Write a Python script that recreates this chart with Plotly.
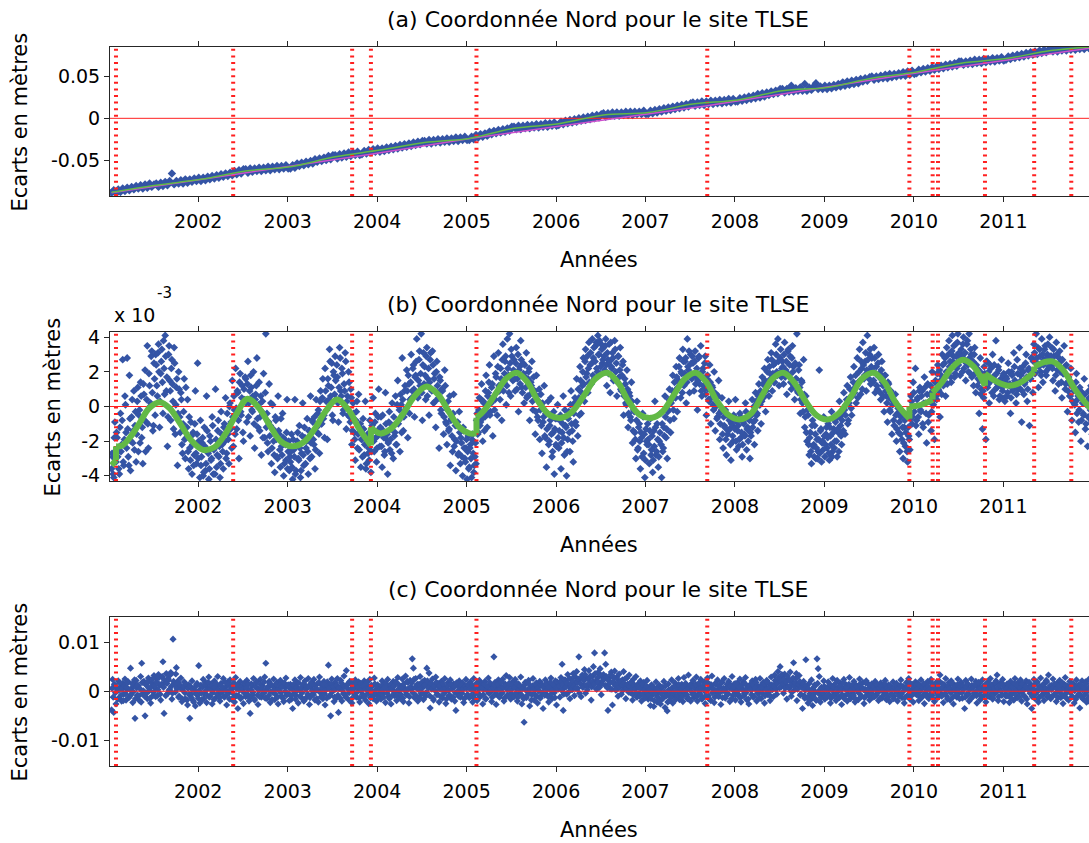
import plotly.graph_objects as go

W, H = 1089, 843
ML = 110
FONT = "DejaVu Sans"
BLUE = "#3454a5"
GREEN = "#62b946"
MAGENTA = "#cc4fcc"
RED = "#ff2020"
AXC = "#262626"

YEARS = [2002, 2003, 2004, 2005, 2006, 2007, 2008, 2009, 2010, 2011]
YEAR_LABELS = ["2002", "2003", "2004", "2005", "2006", "2007", "2008", "2009", "2010", "2011"]
X_RANGE = [2001.013, 2011.958]

# discontinuities (red dotted verticals), decimal years
BREAKS = [2001.08, 2002.39, 2003.72, 2003.93, 2005.11, 2007.69,
          2009.95, 2010.21, 2010.27, 2010.795, 2011.345, 2011.76]

TITLES = ["(a) Coordonnée Nord pour le site TLSE",
          "(b) Coordonnée Nord pour le site TLSE",
          "(c) Coordonnée Nord pour le site TLSE"]
XLABEL = "Années"
YLABEL = "Ecarts en mètres"

# ---------------- panel (a): raw North coordinate, in mm ----------------
A_START = 2001.03
A_STEP = 0.025
A_MM = [
    -89, -86, -90, -85, -88, -84, -87, -83, -86, -82, -85, -81, -84, -80, -84, -79, -83, -78, -82, -79,
    -78, -82, -77, -81, -76, -80, -75, -66, -79, -75, -78, -74, -78, -73, -77, -73, -76, -72, -75, -71,
    -75, -71, -74, -70, -73, -69, -72, -68, -71, -67, -70, -66, -69, -65, -68, -63, -67, -62, -66, -61,
    -61, -65, -60, -64, -60, -63, -59, -63, -59, -62, -58, -62, -58, -61, -57, -61, -57, -60, -56, -60,
    -60, -56, -59, -54, -57, -53, -56, -52, -55, -51, -54, -49, -52, -48, -51, -47, -50, -45, -49, -44,
    -44, -48, -43, -47, -42, -46, -41, -45, -41, -44, -40, -44, -43, -39, -42, -38, -41, -37, -40, -36,
    -40, -36, -39, -35, -38, -34, -37, -33, -36, -32, -35, -31, -34, -30, -33, -29, -32, -28, -31, -27,
    -27, -30, -26, -30, -26, -29, -25, -29, -25, -28, -24, -28, -24, -27, -23, -27, -23, -26, -22, -26,
    -26, -22, -25, -20, -23, -19, -22, -18, -21, -16, -19, -15, -18, -14, -17, -13, -16, -12, -15, -10,
    -10, -13, -9, -13, -9, -12, -8, -12, -8, -11, -7, -11, -7, -10, -6, -10, -6, -9, -5, -9,
    -8, -4, -7, -3, -6, -2, -5, -1, -4, 0, -3, 1, -2, 2, -1, 3, 0, 4, 1, 5,
    6, 2, 6, 3, 7, 3, 7, 3, 7, 4, 8, 4, 8, 4, 8, 5, 8, 5, 9, 5,
    5, 9, 6, 10, 7, 11, 8, 12, 9, 13, 10, 14, 11, 15, 12, 16, 13, 17, 14, 18,
    19, 15, 19, 16, 20, 16, 20, 17, 21, 17, 21, 18, 22, 18, 22, 19, 23, 19, 23, 20,
    20, 24, 21, 25, 22, 26, 23, 27, 24, 29, 25, 30, 26, 31, 28, 32, 29, 33, 30, 35,
    35, 31, 35, 32, 39, 32, 36, 33, 37, 33, 41, 33, 37, 34, 38, 42, 35, 38, 35, 39,
    35, 39, 36, 40, 37, 41, 38, 43, 39, 44, 40, 45, 41, 46, 42, 47, 44, 48, 45, 49,
    50, 46, 50, 47, 51, 48, 52, 48, 53, 49, 53, 50, 54, 51, 55, 51, 56, 52, 57, 53,
    54, 58, 55, 59, 56, 60, 57, 61, 58, 62, 59, 63, 60, 64, 61, 65, 62, 66, 63, 68,
    68, 64, 68, 65, 69, 65, 70, 66, 70, 66, 71, 67, 71, 68, 72, 68, 72, 69, 73, 69,
    70, 74, 71, 75, 72, 76, 73, 77, 74, 78, 75, 79, 76, 80, 77, 81, 78, 82, 79, 82,
    83, 80, 83, 80, 84, 81, 84, 81, 85, 82, 85, 82, 85, 83, 85, 83, 86, 84, 86, 84,
]
A_MODEL_T = [2001.03, 2001.53, 2002.03, 2002.53, 2003.03, 2003.53, 2004.03, 2004.53, 2005.03,
             2005.53, 2006.03, 2006.53, 2007.03, 2007.53, 2008.03, 2008.53, 2009.03, 2009.53,
             2010.03, 2010.53, 2011.03, 2011.53, 2012.03]
A_MODEL_MM = [-88.5, -80, -73, -63, -58, -46, -38, -29, -24, -12, -6.5, 4, 7, 17, 22, 33, 37,
              48, 55.5, 66, 71.5, 81, 86]
A_TREND_T = [2001.03, 2003.93, 2005.11, 2007.69, 2009.95, 2012.03]
A_TREND_MM = [-89, -43, -23, 15, 53, 85]
A_YRANGE = [-0.0929, 0.0853]
A_YTICKS = [-0.05, 0, 0.05]
A_YLABELS = ["-0.05", "0", "0.05"]

# ---------------- panel (b): detrended series, in units of 1e-3 m ----------------
B_START = 2001.03
B_STEP = 0.0125
B_VALS = [
    -3.6, -2.9, -4.1, -0.9, -3.2, -1.8, -2.6, -3.9, -0.4, -2.2, 2.7, -3.4, 0.6, -1.5, 2.8, -2.9, 1.8, -3.7, -0.6, -2.1, 0.9, -1.1, -3.2, 0.3, -2.6, -0.2, 1.4, -1.8, -3.3, 0.7, 2.1, -0.9, 3.5, -2.4, 1.2, 0.2, 3.2, -1.4, 2.5, -0.5,
    2.4, 0.6, 3.6, -1.2, 1.9, 3.3, -0.4, 2.2, 4.1, 0.9, -2.3, 3.0, 1.5, -0.8, 2.7, 0.3, 3.4, -1.6, 1.1, -3.4, 2.0, -0.6, 0.8, -2.2, -1.0, 1.6, -3.0, -1.8, 0.4, -3.6, -2.4, -0.9, -3.9, -1.5, -2.8, 0.9, -3.3, 2.5, -2.0, -4.1,
    -3.4, -2.1, -4.0, -1.2, -3.7, 0.6, -2.6, -4.2, -1.7, -3.1, -0.6, -3.9, -2.4, 1.0, -3.5, -1.4, -2.9, -4.1, -0.3, -2.2, -3.6, -1.0, 0.5, -2.7, -1.6, -3.3, 0.2, -0.9, 1.5, -2.3, -0.2, 2.2, -1.3, 0.8, -3.0, 1.9, -0.5, 1.2, -2.0, 0.4,
    1.6, -0.9, 2.6, 0.2, -1.7, 1.1, -0.3, 2.0, -2.4, 0.7, 2.8, -1.2, 1.4, -0.6, -2.8, 0.3, 1.9, -1.8, 4.2, -0.4, -2.6, 1.3, -1.1, -3.3, 0.1, -2.0, -3.8, -0.8, -2.9, 0.6, -1.6, -3.5, -2.3, -0.4, -4.0, -1.9, -3.1, 0.4, -2.6, -3.7,
    -3.2, -1.6, -4.2, -2.5, 0.4, -3.7, -2.0, -3.0, -1.1, -4.1, -2.7, 0.2, -3.4, -1.8, -2.4, -0.7, -3.9, -1.4, 0.6, -2.9, -0.9, -2.2, -3.6, 0.4, -1.5, -0.2, -2.7, 0.9, -1.0, 1.6, -0.5, 2.2, 0.3, -1.9, 1.2, 3.3, 0.6, 2.5, -0.8, 1.8,
    2.9, 0.4, 1.7, -0.9, 3.4, 0.9, 2.2, -0.4, 1.3, 3.1, -1.3, 0.6, 2.0, -0.6, 1.0, -2.2, 0.2, -1.5, -3.1, -0.3, -2.4, 0.7, -1.2, -3.5, -1.9, -0.7, -2.8, 0.3, -3.3, -1.6, -2.4, -0.8, -3.8, -1.1, 0.5, -2.6, -0.4, -3.2, -1.7, 1.0,
    -2.3, -0.6, -3.5, -1.4, -2.8, 0.8, -1.9, -3.9, -0.9, -2.5, -1.3, 0.2, -3.0, -1.7, 0.6, -2.2, 1.5, -0.8, -2.6, 0.1, 2.8, -1.4, 0.9, -0.3, 2.1, -1.8, 1.3, 0.4, 3.0, 0.9, 2.4, -0.6, 1.8, 3.9, 0.5, 2.7, 1.2, 4.2, -0.8, 3.1,
    2.3, 0.4, 3.4, 1.6, -0.5, 2.7, 1.0, 3.2, 0.2, 1.9, -1.2, 2.6, 0.8, -2.4, 1.5, -0.4, 0.9, -1.6, 2.1, -0.9, -2.2, 0.3, -1.3, -3.4, -0.7, -2.6, 0.7, -1.9, -3.7, -1.1, -2.8, -0.3, -3.3, -2.1, -4.0, -1.4, -3.0, -2.4, -4.2, -1.7,
    -3.5, -2.2, -4.1, -1.6, -3.8, -2.9, -3.3, -0.4, -1.5, 0.5, -0.9, 1.3, -2.0, 0.2, -0.6, 1.8, -1.2, 0.8, 2.4, -0.3, 1.1, -1.7, 2.9, 0.4, 1.7, -0.5, 3.1, 0.9, 2.2, -0.8, 3.6, 1.4, 2.6, 0.1, 3.9, 1.8, 4.2, 0.6, 2.9, 1.5,
    2.7, 0.9, 3.4, 1.6, -0.3, 2.3, 3.8, 1.1, 2.5, 0.2, 1.7, 3.1, 0.6, 2.0, -0.8, 1.4, 2.6, -0.2, 0.9, -1.6, 1.8, -0.6, 0.3, -1.9, 0.7, -2.7, -0.9, 1.2, -1.8, -3.5, -0.4, -2.2, -1.1, 0.5, -2.9, -1.5, -3.9, -0.7, -2.3, 0.1,
    -2.4, -0.8, -3.6, -1.5, 0.6, -2.8, -1.1, -4.0, -1.9, -0.3, -2.6, 0.9, -1.4, -3.2, 0.2, -0.9, 1.6, -1.7, 0.5, 2.3, -0.4, 1.2, 2.8, 0.3, 3.3, 1.9, 0.8, 3.7, 2.4, 1.3, 3.9, 2.8, 1.6, 3.5, 2.2, 4.1, 3.0, 1.9, 3.6, 2.5,
    3.4, 2.1, 3.9, 1.2, 2.7, 3.6, 0.8, 2.3, 3.1, 1.5, 3.8, 2.0, 0.6, 2.9, 1.7, 3.4, 0.9, 2.4, -0.5, 1.6, 0.2, 2.1, -1.2, 0.8, -0.6, 1.4, -2.1, -0.2, -1.5, -3.0, 0.3, -2.4, -1.0, -3.6, -1.8, -0.4, -2.7, -4.1, -1.3, -2.2,
    -1.9, -3.3, -0.7, -2.5, -3.8, -1.4, 0.3, -2.8, -1.0, -3.5, -2.0, -0.4, -4.1, -2.6, -1.2, 0.6, -1.8, -3.0, -0.2, 1.0, -1.5, 0.4, 1.8, -0.7, 0.9, 2.3, -0.3, 1.5, 2.8, 0.5, 1.9, 3.3, 1.2, 2.6, 0.2, 3.9, 2.1, 0.8, 3.0, 1.6,
    2.5, 0.9, 3.2, 1.7, -0.2, 2.8, 1.3, 3.5, 0.6, 2.2, 1.0, 2.9, -0.5, 1.8, 0.4, 2.4, -1.0, 1.2, 0.1, 2.0, -1.4, 0.7, -0.6, 1.5, -1.9, -0.3, 0.5, -2.4, -1.1, -0.2, -2.8, -1.6, 0.3, -1.3, -3.1, -0.8, -2.0, -1.2, 0.4, -2.5,
    -1.4, -2.3, -0.4, -1.8, -2.9, -0.9, -1.6, 0.2, -2.5, -1.2, -0.6, -3.0, -1.7, 0.4, -0.9, -2.2, 0.8, -0.5, -1.4, 1.3, 0.1, -1.0, 1.7, 0.5, 2.2, -0.3, 1.1, 2.7, 0.6, 1.9, 3.1, 0.9, 2.4, 1.4, 3.6, 2.0, 3.9, 1.2, 2.8, 1.7,
    2.6, 1.3, 3.7, 2.1, 0.7, 3.2, 1.8, 2.9, 1.0, 3.5, 2.3, 0.4, 1.6, 4.2, 0.8, 2.4, -0.4, 1.5, 0.2, 2.7, -1.2, 0.6, -2.0, -0.5, -2.8, -1.5, -3.3, -0.8, -2.2, -1.1, -3.0, -1.9, -2.6, 2.1, -1.4, -3.2, -2.0, -0.6, -2.9, -1.6,
    -2.4, -1.0, -3.1, -1.7, -0.3, -2.6, -1.3, -2.0, -0.7, -2.9, -1.5, 0.3, -1.1, -2.2, -0.4, 0.8, -1.6, 0.1, 1.2, -0.8, 0.5, 1.7, -0.5, 0.9, 2.3, 1.1, 0.2, 2.8, 1.4, 3.3, 0.7, 2.2, 3.7, 1.6, 2.6, 0.9, 4.1, 2.0, 3.0, 1.3,
    2.8, 1.4, 3.4, 0.8, 2.3, 1.0, 3.0, 1.9, 0.4, 2.6, 1.2, -0.3, 1.8, 0.6, -0.9, 1.3, -0.2, 0.9, -1.6, 0.3, -1.1, 0.7, -2.0, -0.4, -1.5, -2.6, -0.6, -1.9, -3.0, -1.2, -2.3, -0.5, -3.2, -1.7, -2.5, 0.6, -1.0, 1.4, -0.3, 2.2,
    -0.8, 0.5, -1.6, 1.1, -0.3, 0.9, -1.2, 1.7, 0.2, -2.1, 1.3, -0.5, 0.7, -1.4, 2.0, 0.1, -1.9, 1.5, 0.4, 2.4, 0.9, -0.6, 1.8, 3.0, 1.2, 2.5, 0.6, 3.4, 1.9, 3.8, 2.6, 1.4, 4.1, 2.9, 1.7, 3.6, 2.2, 4.2, 3.1, 1.8,
    3.3, 2.0, 4.0, 2.7, 1.5, 3.6, 2.4, 4.2, 1.9, 3.0, 2.5, 1.2, 3.4, 0.8, 2.2, 1.6, -0.4, 2.8, 1.0, -1.3, 0.5, 1.9, -1.9, 2.6, 1.3, 0.2, 2.4, 1.6, 3.0, 0.6, 1.8, 3.8, 1.1, 2.3, 0.4, 1.5, 2.7, 0.9, 1.9, 0.3,
    1.7, 0.6, 2.5, 1.2, -0.4, 2.0, 0.9, 3.1, 1.5, 0.2, 2.7, 1.0, 3.4, 1.8, -0.9, 2.3, 0.7, 1.4, 3.0, 0.3, 2.1, -1.1, 1.6, 2.8, 0.8, 3.6, 1.9, 4.2, 2.5, 1.1, 3.3, 2.0, 3.9, 1.4, 2.7, 3.5, 1.8, 3.0, 2.2, 4.0,
    2.4, 3.4, 1.5, 2.9, 0.9, 3.7, 2.1, 1.3, 3.2, 2.6, 0.5, 1.9, 3.5, 1.0, 2.4, -0.3, 1.7, 0.6, 2.2, -0.8, 1.3, 0.2, -1.5, 1.9, 0.4, -0.9, 1.1, -2.0, 0.8, -0.4, 1.6, -1.3, 0.1, -2.3, 0.9, -0.7, 1.2, -1.6, 0.3, -0.5,
]
# second set of daily solutions, interleaved half a step later
B2_START = 2001.03625
B_VALS_2 = [
    -2.7, -3.9, -1.8, -3.0, -1.5, -2.9, -3.6, -1.2, -2.6, -0.8, -3.2, -1.9, 0.1, -2.4, -1.3, -3.4, -0.7, -2.0, 0.4, -1.4, -2.5, -0.3, -1.6, 1.1, -0.5, -2.1, 0.6, -1.2, 1.3, -0.8, -2.6, 0.4, -1.0, 1.9, 0.0, 2.9, 0.8, -1.1, 1.6, 3.0,
    1.2, 3.1, 2.0, 0.3, 2.6, 1.4, 3.8, 0.7, 2.9, 1.7, -0.6, 3.5, 0.9, 2.2, 1.3, -1.3, 2.5, 0.1, 1.6, -0.4, 1.0, -1.5, 0.4, -2.7, -0.3, -1.9, 1.1, -1.2, -2.6, -0.6, -3.1, -1.7, -2.2, -3.4, -1.0, -2.7, -1.6, -3.0, -2.3, -0.8,
    -2.9, -1.8, -3.8, -2.3, -3.3, -1.4, -2.7, -3.6, -2.0, -3.0, -1.1, -2.5, -3.9, -1.9, -2.8, -0.8, -2.3, -3.3, -1.6, -2.6, -1.2, -2.0, -3.0, -0.4, -1.9, 0.0, -1.3, -2.4, -0.6, 0.6, -1.6, -0.1, 0.9, -0.8, 1.4, -0.3, 0.5, -1.5, 1.0, 1.7,
    0.2, 1.3, -0.6, 0.9, 1.8, -0.2, 0.6, -1.0, 0.4, 1.2, -0.7, 0.1, -1.4, 0.6, -0.3, -1.8, -0.5, 0.8, -1.2, -2.1, -0.9, -1.7, 0.2, -2.4, -1.3, -2.8, -0.6, -1.9, -3.0, -1.4, -2.5, -0.7, -2.8, -1.8, -3.3, -2.2, -1.5, -3.6, -2.0, -2.9,
    -2.6, -3.5, -1.9, -2.9, -3.9, -2.2, -1.5, -3.1, -2.4, -3.7, -1.7, -2.8, -1.2, -3.3, -2.0, -2.6, -1.4, -3.0, -2.1, -0.8, -1.9, -0.6, -2.5, -1.2, -0.4, -1.6, 0.3, -1.0, 0.5, -0.7, -1.8, 0.9, -0.2, 1.6, 0.4, 2.6, 1.1, -0.5, 2.0, 0.7,
    1.5, 2.4, 0.2, 1.1, 2.8, 0.6, 1.9, -0.2, 0.9, 2.6, 0.3, -0.5, 1.4, -0.9, 0.5, -1.4, -0.4, -1.9, -0.8, 0.3, -1.6, -2.5, -1.0, -1.9, -2.9, -1.3, -2.2, -3.6, -1.7, -2.7, -3.1, -1.9, -2.6, -1.4, -2.0, -0.9, -1.8, -2.4, -0.6, -1.3,
    -1.2, -2.3, -0.5, -1.8, -2.6, -1.0, -1.6, -2.1, -0.3, -1.9, -2.7, -1.1, -0.6, -1.5, -2.2, 0.1, -1.0, -0.2, 0.7, -1.5, 0.4, -0.6, 1.2, -0.1, 0.9, 1.8, -0.4, 1.4, 0.5, 2.2, 1.0, 1.7, 2.6, 0.6, 1.5, 3.2, 1.9, 0.8, 2.4, 1.3,
    1.8, 2.9, 0.6, 2.2, 1.4, 3.1, 0.9, 2.4, 1.6, 0.3, 2.0, 1.2, 0.5, 1.7, -0.2, 1.0, 0.3, -0.6, 1.2, -1.0, -0.2, -1.4, 0.6, -0.8, -1.7, -0.4, -2.3, -1.1, -2.0, -0.9, -2.7, -1.5, -1.8, -2.9, -1.2, -2.4, -3.2, -1.9, -2.6, -3.6,
    -2.4, -3.0, -1.9, -2.7, -3.4, -2.1, -0.8, -1.6, -0.2, -1.1, 0.4, -0.7, 0.3, -1.4, 0.9, -0.3, 0.6, 1.4, -0.5, 0.2, 1.3, 0.5, -0.2, 1.9, 0.8, 2.3, 1.2, 0.4, 1.6, 2.7, 0.9, 1.9, 2.9, 1.2, 2.2, 0.8, 2.5, 3.3, 1.6, 2.1,
    1.6, 2.5, 1.0, 3.0, 2.1, 1.3, 2.7, 0.8, 1.9, 2.4, 1.1, 0.5, 1.6, 2.2, 0.7, 1.2, 0.3, 1.7, 0.9, -0.3, 0.6, -0.8, 1.0, -0.2, -1.1, 0.2, -0.6, -1.7, -0.4, -1.3, 0.3, -2.0, -0.8, -1.6, -2.6, -0.3, -1.3, -2.2, -0.7, -1.8,
    -1.4, -0.5, -2.1, -1.0, -1.8, -0.2, -1.2, -2.6, -0.7, -1.5, 0.1, -1.0, -2.0, -0.4, 0.5, -1.1, 0.3, 1.0, -0.5, 1.5, 0.8, 2.0, 1.3, 2.6, 1.7, 2.9, 2.2, 1.4, 3.1, 2.5, 1.8, 3.4, 2.6, 3.7, 2.0, 3.0, 3.8, 2.3, 3.3, 2.7,
    2.9, 3.5, 2.4, 3.1, 1.9, 2.6, 3.7, 2.2, 2.8, 1.6, 3.3, 2.5, 1.4, 2.9, 2.1, 1.0, 1.8, 2.6, 0.6, 1.3, 0.1, 1.0, -0.4, 0.6, -0.8, 0.3, -1.4, -0.3, -1.9, -0.8, -2.5, -1.2, -2.0, -1.5, -2.9, -0.6, -1.6, -3.1, -2.0, -1.0,
    -2.2, -1.4, -2.8, -1.7, -3.1, -2.3, -1.2, -2.6, -1.9, -2.9, -1.5, -2.2, -1.0, -2.4, -1.7, -0.6, -1.3, -0.3, 0.4, -0.8, 0.2, 0.9, -0.2, 1.4, 0.5, 1.7, 1.1, 2.3, 1.3, 2.0, 0.8, 2.6, 1.9, 2.8, 1.4, 2.3, 3.2, 1.7, 2.5, 2.9,
    1.8, 2.6, 1.3, 2.2, 1.5, 2.9, 1.9, 0.9, 2.0, 1.2, 2.5, 0.7, 1.6, 1.0, 0.3, 1.4, 0.5, 1.1, -0.2, 0.8, 0.0, -0.7, 0.6, -0.4, -1.0, -0.2, -1.6, -0.6, -1.2, -1.9, -0.5, -1.4, -0.8, -2.2, -1.0, -1.7, -0.5, -1.3, -2.0, -0.9,
    -1.1, -1.9, -0.6, -1.5, -2.2, -1.0, -1.7, -0.3, -1.3, -2.0, -0.8, -1.5, -0.5, -1.2, 0.0, -0.8, 0.3, -0.4, 0.6, 0.1, 0.9, 0.3, 1.3, 0.6, 1.5, 0.9, 2.0, 1.2, 2.3, 1.6, 2.7, 1.9, 1.4, 2.5, 3.0, 1.8, 2.6, 1.9, 3.3, 2.2,
    2.3, 3.0, 1.7, 2.6, 1.9, 3.3, 2.4, 1.4, 2.8, 2.0, 1.2, 2.5, 1.6, 0.9, 2.1, 1.1, 0.4, 1.4, -0.3, 0.7, -0.6, -1.5, -0.2, -2.2, -1.8, -2.6, -1.1, -2.3, -2.9, -1.6, -2.4, -3.0, -1.9, -2.7, -1.3, -2.1, -2.5, -1.7, -2.2, -1.2,
    -1.8, -2.7, -1.2, -2.2, -2.9, -1.5, -2.4, -0.9, -2.0, -1.3, -2.6, -0.6, -1.7, -0.8, -1.4, -0.2, -0.5, 0.4, -1.0, 0.2, 1.0, -0.1, 0.6, 1.4, 0.8, 1.8, 1.2, 0.5, 2.0, 1.5, 2.6, 1.0, 2.4, 1.8, 3.1, 2.1, 2.7, 1.6, 3.3, 2.3,
    2.2, 1.5, 2.8, 1.9, 1.2, 2.5, 1.7, 0.8, 2.1, 1.4, 0.6, 1.8, 0.9, 0.2, 1.4, 0.5, -0.3, 0.7, 0.1, -0.8, 0.3, -0.5, -1.3, -0.1, -0.9, -1.6, -0.4, -1.2, -2.1, -0.8, -1.5, -2.6, -1.2, -1.9, -0.7, 0.3, -0.6, 0.8, 0.0, -1.1,
    0.4, -0.6, 0.9, -0.2, 0.6, -1.0, 0.2, 1.1, -0.4, 0.7, -0.9, 0.3, 1.2, -0.3, 0.9, 0.4, 1.4, 0.6, 1.9, 1.0, 2.1, 1.5, 0.7, 2.4, 1.6, 2.8, 2.0, 1.3, 3.0, 2.3, 1.7, 3.2, 2.6, 3.5, 1.9, 2.9, 3.7, 2.4, 3.1, 2.8,
    2.9, 3.6, 2.2, 3.1, 2.5, 3.8, 2.0, 2.8, 3.3, 1.7, 2.6, 3.0, 1.9, 2.4, 1.2, 2.1, 1.5, 0.7, 1.9, 0.9, 2.3, 1.6, 2.6, 1.1, 2.0, 1.4, 2.2, 0.8, 1.7, 2.4, 1.0, 1.9, 1.3, 2.1, 0.6, 1.6, 1.1, 1.8, 0.5, 1.4,
    1.6, 0.8, 2.0, 1.3, 0.5, 1.8, 1.0, 2.3, 1.4, 0.7, 1.9, 1.1, 2.2, 1.5, 0.9, 2.0, 1.3, 2.5, 1.7, 1.0, 2.2, 1.6, 2.8, 1.9, 2.6, 3.1, 2.0, 2.8, 3.4, 2.3, 2.9, 1.8, 3.0, 2.4, 3.3, 2.0, 2.8, 3.6, 2.3, 2.9,
    2.9, 2.2, 3.3, 2.5, 1.8, 3.0, 2.4, 2.8, 2.0, 1.4, 2.7, 1.9, 2.3, 1.3, 1.8, 0.9, 1.5, 0.6, 1.2, 0.3, 0.9, 0.1, 1.4, -0.4, 0.6, -0.2, 0.9, -0.8, 0.2, -0.5, 0.7, -1.0, 0.3, -0.6, 0.5, -0.2, -0.9, 0.4, -0.3, 0.1,
]
# fitted seasonal model (green), one list per segment between offsets
B_MODEL_T = [
    [2001.03, 2001.08],
    [2001.08, 2001.15, 2001.25, 2001.35, 2001.45, 2001.57, 2001.68, 2001.80, 2001.92,
     2002.05, 2002.18, 2002.30, 2002.42, 2002.55, 2002.68, 2002.80, 2002.92,
     2003.05, 2003.18, 2003.30, 2003.42, 2003.55, 2003.68, 2003.80, 2003.93],
    [2003.93, 2004.03, 2004.15, 2004.28, 2004.42, 2004.55, 2004.68, 2004.80, 2004.92, 2005.03, 2005.11],
    [2005.11, 2005.20, 2005.32, 2005.44, 2005.56, 2005.68, 2005.80, 2005.93,
     2006.06, 2006.18, 2006.32, 2006.44, 2006.57, 2006.69, 2006.81, 2006.94,
     2007.07, 2007.19, 2007.32, 2007.44, 2007.56, 2007.68, 2007.80, 2007.93,
     2008.05, 2008.18, 2008.30, 2008.42, 2008.54, 2008.66, 2008.79, 2008.91,
     2009.03, 2009.16, 2009.30, 2009.42, 2009.55, 2009.67, 2009.80, 2009.95],
    [2009.95, 2010.08, 2010.21],
    [2010.21, 2010.30, 2010.42, 2010.55, 2010.67, 2010.795],
    [2010.795, 2010.92, 2011.05, 2011.18, 2011.345],
    [2011.345, 2011.45, 2011.55, 2011.67, 2011.80, 2011.92, 2012.00],
]
B_MODEL_V = [
    [-3.4, -3.1],
    [-2.3, -2.25, -1.7, -0.9, -0.1, 0.25, -0.1, -1.0, -1.95,
     -2.5, -2.35, -1.6, -0.5, 0.45, -0.1, -1.1, -2.0,
     -2.3, -2.05, -1.3, -0.3, 0.4, -0.2, -1.3, -2.25],
    [-1.2, -1.55, -1.3, -0.5, 0.6, 1.15, 0.7, -0.3, -1.2, -1.55, -1.55],
    [-0.65, -0.2, 0.7, 1.6, 1.95, 1.4, 0.3, -0.5,
     -0.65, -0.3, 0.7, 1.6, 1.95, 1.4, 0.3, -0.5,
     -0.65, -0.3, 0.7, 1.6, 1.95, 1.4, 0.3, -0.5,
     -0.75, -0.4, 0.6, 1.6, 1.95, 1.4, 0.3, -0.5,
     -0.75, -0.4, 0.6, 1.6, 1.95, 1.4, 0.2, -0.7],
    [0.0, 0.1, 0.4],
    [0.8, 1.3, 2.2, 2.7, 2.3, 1.2],
    [1.9, 1.45, 1.2, 1.35, 2.0],
    [2.3, 2.55, 2.6, 2.1, 1.0, 0.2, -0.2],
]
B_YRANGE = [-4.3, 4.3]
B_YTICKS = [-4, -2, 0, 2, 4]
B_YLABELS = ["-4", "-2", "0", "2", "4"]

# ---------------- panel (c): residuals, in mm ----------------
C_START = 2001.03
C_STEP = 0.0125
C_MM = [
    -3.8, 2.4, -4.3, 1.0, -2.6, 0.5, 2.1, -1.4, 0.8, -2.0, 1.6, -0.6, 2.5, -1.8, 0.3, 1.9, -1.1, 4.7, 0.6, -2.3, 1.4, -5.5, 2.2, -0.8, 1.1, -1.9, 3.0, 5.7, -0.4, 2.0, -5.0, 1.3, -1.5, 2.7, 0.2, -2.4, 1.7, -0.9, 3.2, 0.7,
    2.6, -0.9, 3.4, 1.2, -1.8, 2.9, 6.0, -4.5, 1.8, 3.6, -0.5, 2.3, 0.4, 3.8, -1.6, 10.6, 1.5, -0.2, 4.8, 2.0, -1.2, 1.0, 2.7, -2.1, 0.6, 1.9, -1.5, 0.9, -2.8, 1.3, -5.5, -0.7, 2.1, -1.9, 0.2, -3.0, 1.4, -0.8, 5.2, -2.4,
    1.2, -1.7, 2.4, -0.5, 1.8, -2.3, 0.7, 2.9, -1.0, 1.5, -2.6, 0.3, 2.1, -1.4, 0.9, 3.0, -0.6, -2.0, 1.6, 0.1, 2.6, -1.2, 0.8, -2.8, 1.9, -0.3, 2.3, -1.6, 0.5, 1.4, -2.2, 2.8, -0.9, -3.5, 1.1, 2.0, -1.3, 0.6, -2.5, 1.7,
    -1.1, 2.2, 0.4, -2.0, -4.5, 1.5, -0.7, 2.6, -1.8, 0.9, 1.9, -2.7, 0.2, 2.4, -1.2, 1.1, -0.4, 2.9, 5.7, -1.5, 0.7, 2.0, -2.3, 1.3, -0.2, 2.5, -1.7, 0.6, 1.8, -2.6, 0.1, 2.2, -1.0, 1.6, -2.1, 0.8, 2.7, -0.6, 1.3, -1.9,
    1.4, -1.6, -3.5, 0.8, 2.3, -0.9, 1.7, -2.4, 0.3, 2.8, -1.3, 1.0, -2.0, 2.1, 0.5, -1.1, 2.6, -2.7, 0.9, 1.8, -0.5, 2.4, -1.8, 0.2, 1.5, -2.2, 2.9, -0.3, 1.2, -1.5, 2.0, -2.8, 0.7, 1.9, 5.3, -1.0, -5.0, 2.5, 0.4, -2.1,
    1.8, -1.4, 2.6, -4.3, 0.6, 2.2, -2.0, 1.1, 3.1, -0.8, 4.2, 1.4, -1.7, 2.0, 0.3, -2.4, 1.6, -0.5, 2.3, -1.2, 0.8, 1.9, -2.2, 0.1, 1.5, -1.0, 2.1, -1.8, 0.5, 1.2, -2.5, 2.4, -0.3, 1.0, -1.5, 2.7, 0.2, -2.0, 1.3, -0.7,
    0.9, -1.6, 2.1, -0.4, 1.5, -2.3, 0.6, 2.4, -1.1, 1.2, -2.6, 0.3, 2.0, -0.9, 1.7, -1.9, 2.8, 0.1, -1.4, 1.0, 2.5, -2.1, 0.7, 3.1, -0.6, 1.8, -2.4, 2.2, 0.4, 6.6, 4.7, -1.3, 2.6, 0.8, -2.0, 1.4, 3.0, -0.5, 1.9, -1.7,
    2.2, -1.0, 4.7, 1.3, 3.7, -3.4, 0.6, 2.5, -1.8, 1.1, 2.9, -0.7, 1.6, -2.2, 0.4, 2.0, -1.4, 0.9, 2.6, -2.5, 0.2, 1.8, -0.9, 2.3, -1.6, 0.7, 1.5, -2.0, -3.9, 1.2, -0.5, 2.1, -1.2, 0.5, 1.7, -2.3, 0.9, 2.4, -0.8, 1.4,
    -1.3, 1.9, 0.3, -2.2, 2.6, -0.6, 1.4, -1.9, 0.8, 2.2, -1.0, 1.6, -2.6, 0.5, 2.0, -1.5, 0.9, 2.7, -0.4, 1.3, -2.1, 0.2, 7.0, 1.8, -2.7, 0.6, 2.3, -1.2, 1.0, -0.5, 2.5, -2.0, 1.5, 3.2, -0.8, 1.1, 2.8, -1.6, 0.4, 2.0,
    -1.1, 2.4, 0.7, -2.0, 1.5, -0.4, 2.9, -2.6, 0.9, -6.3, 1.8, -1.3, 0.3, 2.2, -3.0, 1.0, -0.7, 2.6, -1.8, 0.5, 1.7, -2.4, 0.1, 2.0, -1.0, 1.3, -3.5, 0.8, 2.3, -0.6, 1.6, -2.2, 0.4, 2.7, -1.5, 1.1, -0.3, 2.1, -2.8, 0.9,
    1.5, -1.2, 2.8, 5.5, -3.9, 0.7, 2.2, -0.6, 3.4, 1.0, -1.5, 2.5, 0.3, 3.6, -0.9, 1.8, 4.0, 0.6, 7.0, 2.4, -1.1, 3.3, 1.2, 4.4, -0.4, 2.7, 0.9, 4.2, 1.6, -1.8, 3.0, 5.0, 7.8, 2.0, 0.4, 3.8, 1.3, 4.6, -0.7, 2.9,
    3.4, 7.8, 5.5, 1.1, -3.9, 2.6, 0.5, 3.9, -2.8, 1.8, 4.1, 0.2, 2.9, -1.0, 3.5, 1.4, -0.6, 2.3, 4.0, 0.8, -1.5, 2.7, 1.0, 3.3, -0.3, 1.9, -1.8, 2.5, 0.6, 3.0, -1.2, 1.5, -0.4, 2.1, -2.0, 0.9, 1.8, -1.4, 0.3, 2.2,
    -1.6, 0.8, -2.9, 1.3, -0.7, -3.1, 0.4, 1.9, -2.2, -0.3, 1.2, -2.6, 0.7, -1.4, 2.0, -3.3, -0.5, -4.0, 1.5, -1.9, 0.2, 2.3, -2.4, -0.8, 1.7, -1.2, 0.9, 2.6, -1.7, 0.3, 1.4, -2.1, 2.8, -0.6, 1.0, -1.5, 3.3, 0.5, -2.0, 1.6,
    2.2, -1.3, 0.6, 2.9, -2.0, 1.1, -0.4, 2.4, -1.6, 0.8, 1.9, -2.5, 0.2, 2.7, -0.9, 1.4, -1.9, 3.1, 0.5, -2.3, 1.6, -0.2, 2.3, -1.1, 0.9, -2.7, 1.8, 0.1, 2.6, -1.4, 0.7, -0.6, 2.0, -2.1, 1.2, 3.0, -0.8, 1.5, -1.8, 0.4,
    1.7, -1.0, 2.5, -2.2, 0.6, 1.9, -0.5, 2.8, -1.7, 0.9, -2.6, 1.3, 0.2, 2.1, -1.2, 0.7, 2.4, -2.0, 1.0, -0.3, 2.6, -1.5, 0.5, 1.8, -2.4, 0.8, 2.2, -0.7, 1.5, -1.9, 2.9, 0.3, -1.1, 3.3, 1.6, -0.6, 4.0, 2.3, 5.0, 0.9,
    2.8, -0.4, 3.5, 1.2, -1.6, 2.4, 0.6, 3.9, -1.0, 1.8, 5.8, 0.3, 2.6, -1.9, 1.4, 3.2, -0.8, 0.9, -3.5, 2.0, -1.4, 6.4, 0.5, -2.4, 1.6, -0.9, 2.3, -2.9, 0.2, 1.3, -1.8, 6.6, 4.6, 3.0, -2.2, 0.8, -0.5, 2.1, -1.6, 0.6,
    -1.2, 1.9, 0.4, -2.4, 1.1, 2.6, -0.7, 0.8, -1.9, 2.2, 0.0, -1.3, 1.6, -2.7, 0.6, 2.4, -0.9, 1.3, -2.0, 0.3, 2.8, -1.5, 0.9, -0.4, 2.0, -2.2, 1.2, 0.1, -1.7, 2.5, 0.7, -1.0, 1.8, -2.5, 0.4, 2.1, -0.6, 1.4, -1.8, 0.9,
    1.5, -1.2, 0.6, 2.0, -0.8, 1.1, -1.9, 0.3, 1.7, -1.4, 0.8, -0.3, 2.2, -1.7, 0.5, 1.3, -2.1, 0.9, -0.6, 1.9, -1.0, 0.2, 1.6, -2.0, 0.7, -0.4, 2.3, -1.3, 1.0, -2.4, 0.4, 1.8, -0.9, 2.6, -1.6, 0.1, 1.4, -2.2, 0.8, 1.9,
    -0.7, 1.6, -1.9, 0.5, 2.3, -1.1, 0.9, -2.5, 1.4, 0.1, 2.0, -1.5, 0.6, 2.4, -0.8, 1.2, -2.1, 0.3, 1.9, -1.3, 0.7, 3.3, -0.5, 1.5, -2.3, 0.9, 2.6, -1.0, 0.4, 1.8, -1.8, 2.1, 0.0, -2.6, 1.3, 0.6, -1.2, 2.5, -0.4, 1.0,
    1.8, -1.4, 0.7, -3.5, 2.2, -0.6, 1.3, -2.0, 0.4, 2.5, -1.2, 1.0, -0.3, 2.0, -2.4, 0.8, 1.6, -1.7, 0.2, 2.3, -0.9, 1.2, -2.2, 0.5, 1.9, -1.1, 2.6, 0.1, -1.6, 1.4, -0.5, 2.1, 3.3, -1.9, 0.6, 1.7, -0.8, 2.4, -2.1, 0.9,
    -1.0, 1.5, 0.3, -2.3, 2.0, -0.6, 1.1, -1.8, 2.6, 0.4, -1.3, 1.8, -0.2, 2.3, -2.0, 0.8, 1.4, -1.1, 2.1, -2.6, 0.6, 1.7, -0.4, -3.5, 1.0, 2.4, -1.5, 0.2, 1.9, -2.2, 0.9, 2.7, -0.8, 1.3, -1.9, 0.5, 2.2, -1.2, 3.3, 0.7,
    -1.5, 1.2, 2.5, -0.7, 0.9, -2.1, 1.7, 0.2, 2.2, -1.3, 0.6, -2.5, 1.4, 2.8, -0.4, 1.0, -1.8, 2.0, 0.3, -1.1, 1.6, -2.4, 0.8, 2.3, -0.9, 1.3, -3.4, 0.5, 2.1, -1.6, 0.7, 1.9, -2.2, 0.4, 2.4, -1.0, 1.1, -2.7, 0.6, 1.5,
]
C2_START = 2001.03625
C_MM_2 = [
    0.6, -1.2, 1.4, -0.3, 0.9, -1.6, 0.2, 1.7, -0.8, 0.4, -1.9, 1.1, -0.5, 0.8, 1.9, -1.3, 0.3, -0.7, 1.5, -0.1, 2.3, -1.5, 0.7, 1.2, -0.9, 0.5, -2.2, 1.8, 0.1, -1.0, 1.4, -0.4, 2.0, 0.6, -1.4, 0.9, 2.4, -0.2, 1.1, -1.1,
    1.9, 0.3, 2.8, -0.6, 1.4, 3.0, 0.8, 2.2, -0.9, 1.6, 2.6, 0.2, 3.3, 1.0, -0.4, 2.0, 1.3, 3.5, 0.5, 1.8, -1.0, 1.2, 0.4, -1.6, 0.9, -0.3, 1.5, -1.8, 0.6, -0.7, 1.0, -1.3, 0.3, -2.2, 0.8, -0.5, 1.6, -1.4, 0.2, 1.1,
    -0.4, 0.9, -1.5, 1.3, 0.2, -0.8, 1.8, -1.2, 0.5, 1.1, -0.3, -1.7, 0.8, 1.6, -0.6, 0.3, -1.3, 1.2, -0.2, 0.7, -1.0, 1.9, 0.1, -0.7, 1.4, -1.6, 0.4, 0.9, -0.4, 1.7, -1.1, 0.6, 1.3, -0.9, 0.2, -1.5, 1.0, 0.5, -0.3, 1.5,
    0.7, -0.6, 1.5, -1.3, 0.3, 1.1, -0.2, -1.6, 0.9, 1.8, -0.8, 0.4, -1.1, 1.3, 0.6, -0.4, 1.9, -1.4, 0.2, 0.8, -0.9, 1.6, -0.1, -1.7, 1.0, 0.3, -0.6, 1.4, -1.2, 0.5, 1.2, -0.3, 0.9, -1.5, 1.7, 0.0, -0.8, 1.1, -0.5, 0.6,
    -0.9, 0.5, 1.3, -0.4, -1.6, 0.8, 0.2, 1.7, -1.0, 0.6, -0.3, 1.4, -1.8, 0.4, 1.0, -0.6, 0.9, -1.3, 1.6, 0.1, -0.7, 1.2, 0.5, -1.5, 0.3, 1.8, -0.2, -1.1, 0.7, 1.4, -0.5, 0.2, -1.4, 1.1, 0.6, -0.8, 1.5, -0.1, 0.9, -1.2,
    0.4, 1.2, -0.8, 0.6, -1.4, 1.7, 0.1, -0.5, 1.0, -1.2, 0.7, 1.5, -0.3, 0.2, -1.6, 1.1, 0.5, -0.9, 1.3, -0.2, 0.8, -1.4, 1.6, 0.3, -0.6, 1.0, -1.0, 0.4, 1.8, -0.4, 0.6, -1.3, 1.2, 0.0, -0.8, 1.5, -0.5, 0.9, -1.1, 0.3,
    -0.5, 1.1, 0.3, -1.2, 0.8, 1.6, -0.4, 0.2, -1.5, 1.3, 0.6, -0.8, 1.0, -0.2, 1.9, -1.0, 0.4, 1.2, -0.6, 0.7, -1.4, 1.5, 0.1, -0.7, 2.0, 0.5, -1.1, 0.9, 1.7, -0.3, 2.4, 0.8, -0.9, 1.4, 0.3, -1.3, 1.1, 0.6, -0.4, 1.0,
    1.3, -0.2, 2.1, 0.7, -0.9, 1.6, 0.4, -1.4, 1.0, 0.1, 1.8, -0.6, 0.8, 1.2, -1.1, 0.3, 1.5, -0.5, 0.6, -1.6, 1.1, 0.2, -0.8, 1.4, 0.5, -1.2, 0.9, -0.3, 1.7, 0.0, -1.0, 0.7, 1.3, -0.4, 0.4, -1.5, 1.0, 0.6, -0.7, 1.2,
    0.5, -0.9, 1.2, 0.1, -1.4, 0.8, 1.6, -0.3, 0.4, -1.1, 1.0, 0.6, -0.7, 1.4, -1.6, 0.2, 0.9, -0.4, 1.7, 0.3, -1.2, 0.7, 1.3, -0.6, 0.0, 1.5, -1.0, 0.5, 1.9, -0.2, 0.8, -1.4, 1.1, 0.4, -0.8, 1.6, 0.2, -0.5, 1.2, -1.1,
    0.8, -0.4, 1.5, -1.2, 0.3, 1.0, -0.7, 0.6, -1.5, 1.3, 0.2, -0.9, 1.7, -0.3, 0.5, -1.8, 1.1, 0.4, -0.6, 1.4, -1.0, 0.7, 0.1, -1.4, 1.2, -0.2, 0.9, -0.8, 1.6, 0.3, -1.1, 0.8, 1.8, -0.5, 0.2, 1.3, -1.3, 0.6, 1.9, 0.4,
    1.1, 2.0, 0.2, 1.4, -0.6, 2.3, 0.9, 1.7, -0.2, 2.6, 1.3, 0.4, 2.1, 1.0, 3.0, 0.6, 1.8, 2.5, -0.4, 1.5, 2.8, 0.8, 2.2, 3.4, 1.2, 0.3, 2.4, 1.6, 3.1, 0.9, 2.0, 1.4, 3.6, 0.5, 2.7, 1.9, 0.8, 3.3, 1.5, 2.2,
    2.5, 1.2, 3.0, 0.7, 2.2, 1.6, 3.4, 0.4, 1.9, 2.8, 1.1, 0.3, 2.4, 1.7, 0.8, 2.0, 1.3, 0.2, 1.6, 2.6, 0.6, 1.4, -0.2, 1.0, 1.8, 0.4, -0.7, 1.3, 0.5, -0.3, 1.1, 0.8, -1.0, 0.6, 1.4, -0.5, 0.3, -1.2, 1.0, -0.4,
    -0.8, 0.4, -1.5, -0.2, 0.9, -1.9, -0.6, 0.6, -1.2, 0.1, -2.0, -0.5, 0.8, -1.4, -0.1, 1.1, -0.9, -2.2, 0.3, -0.6, -1.3, 0.7, -0.3, 1.0, -1.7, 0.2, -0.8, 1.3, -0.4, 0.5, -1.1, 0.9, -0.2, 1.6, -0.7, 0.4, -1.5, 1.2, 0.0, -0.6,
    0.9, -0.5, 1.4, -1.1, 0.3, 1.7, -0.7, 0.6, -1.4, 1.2, 0.0, -0.9, 1.9, 0.4, -1.6, 0.8, 1.3, -0.3, 0.5, -1.2, 1.5, 0.2, -0.8, 1.0, -0.2, 1.8, -1.3, 0.6, 0.1, -1.0, 1.4, -0.5, 0.7, 1.1, -1.5, 0.3, 0.9, -0.6, 1.6, 0.0,
    -0.6, 0.8, -1.3, 1.2, 0.2, -0.9, 1.6, -0.3, 0.5, -1.6, 1.0, 0.4, -0.7, 1.4, -1.1, 0.6, 1.8, -0.4, 0.1, -1.3, 1.1, 0.7, -0.5, 1.5, -0.9, 0.3, 1.9, -0.2, 0.8, -1.0, 1.3, 0.5, 1.0, 2.2, 0.4, 1.6, 2.8, 0.7, 1.9, 3.4,
    1.5, 2.4, 0.6, 1.9, 3.1, 0.9, 2.2, 1.2, -0.2, 2.7, 1.0, 1.7, 3.6, 0.4, 1.3, 2.0, -0.6, 0.8, 1.5, -0.9, 0.2, 1.1, -1.4, 0.5, -0.5, -1.7, 0.3, -1.0, 0.9, -0.3, -1.8, 1.6, 0.1, -0.7, -1.3, 0.6, -0.4, 1.0, -1.1, 0.2,
    0.7, -0.6, 1.3, -1.4, 0.2, 0.9, -0.9, 1.6, -0.3, 0.5, -1.2, 1.1, 0.3, -0.7, 1.8, -1.5, 0.4, 0.8, -0.5, 1.4, -1.0, 0.2, 1.2, -0.8, 0.6, -1.6, 1.0, 0.0, -0.4, 1.5, -1.1, 0.7, 0.3, -1.3, 1.7, -0.2, 0.5, -0.9, 1.2, 0.1,
    -0.5, 0.9, -1.1, 0.4, 1.3, -0.3, 0.6, -1.4, 1.0, 0.2, -0.8, 1.5, -0.4, 0.7, -1.2, 0.3, 1.1, -0.6, 0.5, -1.5, 0.8, 1.4, -0.2, 0.4, -1.0, 1.2, -0.5, 0.9, 0.1, -1.3, 0.6, 1.0, -0.7, 0.3, 1.6, -0.9, 0.2, 0.8, -0.4, 1.2,
    0.4, -0.8, 1.2, 0.0, -1.3, 0.8, 1.5, -0.4, 0.6, -1.1, 1.0, 0.3, -0.6, 1.7, -1.4, 0.5, 0.9, -0.2, 1.3, -0.9, 2.0, 0.4, -1.0, 0.7, 1.4, -0.5, 0.2, -1.6, 1.1, 0.6, -0.3, 1.6, -1.2, 0.8, 0.1, -0.7, 1.3, 0.4, -1.5, 0.9,
    -0.3, 1.1, 0.5, -1.2, 0.8, 1.6, -0.6, 0.3, -1.5, 1.2, 0.7, -0.4, 1.4, -0.9, 0.2, 1.8, -0.7, 0.6, -1.3, 1.0, 0.4, -0.2, 1.5, -1.0, 0.3, 0.9, -0.6, 1.3, -1.4, 0.5, 1.7, -0.1, 0.8, -1.1, 1.2, 0.0, -0.8, 1.4, 0.6, -0.5,
    0.6, -0.9, 1.3, 0.2, -1.4, 0.9, -0.3, 1.6, -0.7, 0.4, 1.1, -1.2, 0.7, -0.1, 1.5, -0.8, 0.3, 1.0, -1.6, 0.5, 1.8, -0.4, 0.8, -1.1, 0.2, 1.3, -0.6, 1.7, 0.0, -1.3, 0.9, 0.4, -0.9, 1.4, -0.2, 0.6, 1.9, -0.7, 0.3, 1.1,
    0.3, -1.0, 0.8, 1.5, -0.4, 0.6, -1.3, 1.1, 0.2, -0.6, 1.7, -0.9, 0.5, 1.2, -1.5, 0.4, 0.9, -0.3, 1.4, -1.1, 0.7, 0.1, -1.6, 1.0, 0.5, -0.5, 1.3, -1.2, 0.2, 0.8, -0.7, 1.6, -0.1, -1.4, 0.9, 0.4, -0.8, 1.2, -0.2, 0.6,
]
C_YRANGE = [-0.0152, 0.0151]
C_YTICKS = [-0.01, 0, 0.01]
C_YLABELS = ["-0.01", "0", "0.01"]

# ---------------- layout geometry (pixels) ----------------
PANEL_TOP = [47, 332, 617]
PANEL_H = 149


def px_x(px):
    return (px - ML) / (W - ML)


def px_y(py):
    return 1 - py / H


a_t = [A_START + i * A_STEP for i in range(len(A_MM))]
b_t = [B_START + i * B_STEP for i in range(len(B_VALS))]
b2_t = [B2_START + i * B_STEP for i in range(len(B_VALS_2))]
c_t = [C_START + i * C_STEP for i in range(len(C_MM))]
c2_t = [C2_START + i * C_STEP for i in range(len(C_MM_2))]

fig = go.Figure()


def add_breaks(xa, ya, yr):
    xs, ys = [], []
    for b in BREAKS:
        xs += [b, b, None]
        ys += [yr[0], yr[1], None]
    fig.add_trace(go.Scatter(x=xs, y=ys, mode="lines", xaxis=xa, yaxis=ya,
                             line=dict(color=RED, width=4, dash="2px,4.6px"),
                             hoverinfo="skip"))


def add_zero(xa, ya):
    fig.add_trace(go.Scatter(x=X_RANGE, y=[0, 0], mode="lines", xaxis=xa, yaxis=ya,
                             line=dict(color=RED, width=1), hoverinfo="skip"))


def add_points(xs, ys, xa, ya, size):
    fig.add_trace(go.Scatter(x=xs, y=ys, mode="markers", xaxis=xa, yaxis=ya,
                             marker=dict(symbol="diamond", size=size, color=BLUE, line=dict(width=0))))


# panel (a)
add_points(a_t, [v / 1000 for v in A_MM], "x", "y", 6.5)
add_breaks("x", "y", A_YRANGE)
add_zero("x", "y")
fig.add_trace(go.Scatter(x=A_TREND_T, y=[v / 1000 for v in A_TREND_MM], mode="lines", xaxis="x", yaxis="y",
                         line=dict(color=MAGENTA, width=1.5)))
fig.add_trace(go.Scatter(x=A_MODEL_T, y=[v / 1000 for v in A_MODEL_MM], mode="lines", xaxis="x", yaxis="y",
                         line=dict(color=GREEN, width=1.5, shape="spline")))

# panel (b)
add_points(b_t, B_VALS, "x2", "y2", 6)
add_points(b2_t, B_VALS_2, "x2", "y2", 6)
add_breaks("x2", "y2", B_YRANGE)
add_zero("x2", "y2")
for seg_t, seg_v in zip(B_MODEL_T, B_MODEL_V):
    fig.add_trace(go.Scatter(x=seg_t, y=seg_v, mode="lines", xaxis="x2", yaxis="y2",
                             line=dict(color=GREEN, width=6, shape="spline")))
jx, jy = [], []
for k in range(len(B_MODEL_T) - 1):
    jx += [B_MODEL_T[k][-1], B_MODEL_T[k + 1][0], None]
    jy += [B_MODEL_V[k][-1], B_MODEL_V[k + 1][0], None]
fig.add_trace(go.Scatter(x=jx, y=jy, mode="lines", xaxis="x2", yaxis="y2",
                         line=dict(color=GREEN, width=6)))

# panel (c)
add_points(c_t, [v / 1000 for v in C_MM], "x3", "y3", 5.5)
add_points(c2_t, [v / 1000 for v in C_MM_2], "x3", "y3", 5.5)
add_breaks("x3", "y3", C_YRANGE)
add_zero("x3", "y3")

tickfont = dict(family=FONT, size=19, color="black")


def xaxis(anchor):
    return dict(domain=[0, 1], range=X_RANGE, anchor=anchor, tickmode="array",
                tickvals=YEARS, ticktext=YEAR_LABELS, ticks="outside", ticklen=5,
                tickwidth=1, tickcolor=AXC, showline=True, linecolor=AXC, linewidth=1,
                mirror="ticks", showgrid=False, zeroline=False, tickfont=tickfont,
                ticklabelstandoff=3, automargin=False, fixedrange=True)


def yaxis(anchor, k, yr, tv, tt):
    top = PANEL_TOP[k]
    return dict(domain=[px_y(top + PANEL_H), px_y(top)], range=yr, anchor=anchor,
                tickmode="array", tickvals=tv, ticktext=tt, ticks="outside", ticklen=5,
                tickwidth=1, tickcolor=AXC, showline=True, linecolor=AXC, linewidth=1,
                mirror=False, showgrid=False, zeroline=False, tickfont=tickfont,
                automargin=False, fixedrange=True)


annotations = []
for k in range(3):
    off = 285 * k
    annotations.append(dict(text=TITLES[k], x=px_x(598.3), y=px_y(19.6 + off), xref="paper", yref="paper",
                            showarrow=False, xanchor="center", yanchor="middle",
                            font=dict(family=FONT, size=22, color="black")))
    annotations.append(dict(text=XLABEL, x=px_x(599), y=px_y(259.6 + off), xref="paper", yref="paper",
                            showarrow=False, xanchor="center", yanchor="middle",
                            font=dict(family=FONT, size=21, color="black")))
    annotations.append(dict(text=YLABEL, x=px_x(52 if k == 1 else 19), y=px_y(122.5 + off),
                            xref="paper", yref="paper", showarrow=False, textangle=-90,
                            xanchor="center", yanchor="middle",
                            font=dict(family=FONT, size=21, color="black")))
annotations.append(dict(text="x 10", x=px_x(111.7), y=px_y(315), xref="paper", yref="paper",
                        showarrow=False, xanchor="left", yanchor="middle",
                        font=dict(family=FONT, size=19, color="black")))
annotations.append(dict(text="-3", x=px_x(155), y=px_y(292.8), xref="paper", yref="paper",
                        showarrow=False, xanchor="left", yanchor="middle",
                        font=dict(family=FONT, size=15, color="black")))

fig.update_layout(
    width=W, height=H, margin=dict(l=ML, r=0, t=0, b=0),
    paper_bgcolor="white", plot_bgcolor="white", showlegend=False,
    font=dict(family=FONT, color="black"),
    xaxis=xaxis("y"), xaxis2=xaxis("y2"), xaxis3=xaxis("y3"),
    yaxis=yaxis("x", 0, A_YRANGE, A_YTICKS, A_YLABELS),
    yaxis2=yaxis("x2", 1, B_YRANGE, B_YTICKS, B_YLABELS),
    yaxis3=yaxis("x3", 2, C_YRANGE, C_YTICKS, C_YLABELS),
    annotations=annotations,
)

fig.write_html("out.html", config={"displayModeBar": False},
               post_script="document.body.style.margin='0px';document.body.style.overflow='hidden';")
